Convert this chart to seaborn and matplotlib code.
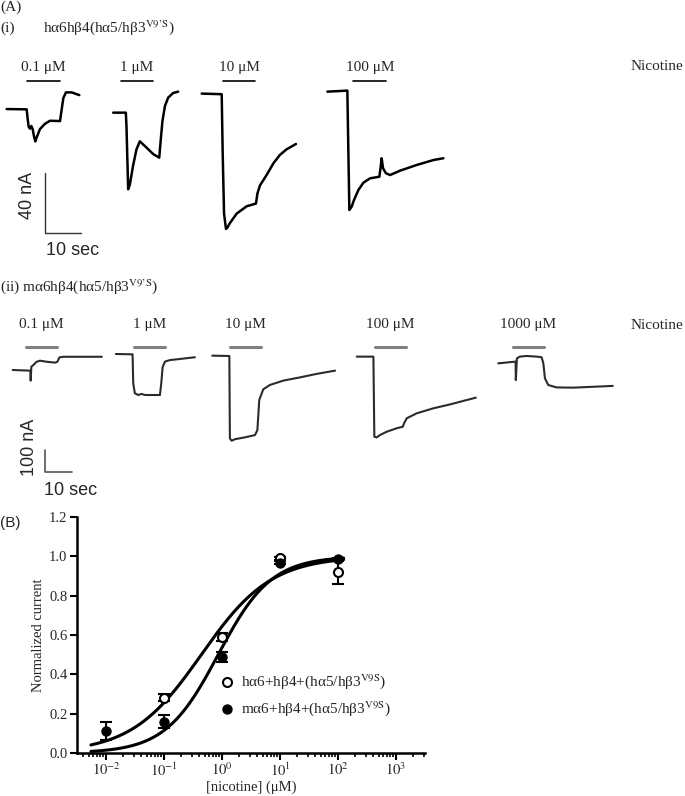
import numpy as np
import matplotlib
matplotlib.use("Agg")
import matplotlib.pyplot as plt
import seaborn as sns

# ============================================
# Data: panel A(i) traces  (time s, current nA)
# ============================================
conc_labels_i = ["0.1 μM", "1 μM", "10 μM", "100 μM"]

t_i_01 = [0, 5.6, 5.88, 6.16, 6.54, 6.9, 7.28, 7.66, 8.03, 8.4, 9.34, 10.74, 12.14, 14.94, 15.3, 15.87, 16.6, 18.2, 20.35]
i_i_01 = [0, -0.2, -6.7, -11.8, -13.1, -11.3, -13.3, -18.4, -21.6, -18.9, -13.3, -9.8, -7.8, -8.0, -2.0, 7.3, 11.1, 11.1, 9.3]

t_i_1 = [0, 3.55, 3.73, 4.2, 4.67, 5.6, 6.54, 7.47, 9.34, 11.2, 12.9, 13.26, 13.8, 14.5, 15.4, 16.8, 18.2]
i_i_1 = [0, 0, -9.3, -51.1, -48, -35, -24.4, -19.1, -23.3, -27.6, -30, -20, -5.6, 4.4, 10, 13.1, 14]

t_i_10 = [0, 5.6, 5.88, 6.26, 6.8, 7.19, 7.94, 9.8, 12.6, 15.2, 15.6, 16.3, 18.2, 20.1, 21.9, 23.8, 26.4]
i_i_10 = [0, -0.4, -40, -80, -90.2, -89.3, -86.2, -80, -75.1, -73.3, -66.7, -61.3, -54.2, -46.4, -40.9, -37.1, -33.6]

t_i_100 = [0, 5.6, 5.88, 6.16, 6.8, 7.47, 8.68, 10.08, 11.95, 14.57, 14.94, 15.2, 15.6, 16.4, 17.55, 20.35, 25.0, 29.7, 32.5]
i_i_100 = [0, 0.7, -40, -78.9, -76.7, -72.2, -65.6, -60.7, -57.8, -56.7, -50, -44.4, -51.1, -54.4, -55.6, -52.7, -48.9, -45.6, -44.4]

# ============================================
# Data: panel A(ii) traces  (time s, current nA)
# ============================================
conc_labels_ii = ["0.1 μM", "1 μM", "10 μM", "100 μM", "1000 μM"]

t_ii_01 = [0, 6.62, 6.75, 7.0, 7.75, 9.0, 10.25, 12.75, 15.9, 16.75, 17.5, 19.0, 24.0, 33.4]
i_ii_01 = [0, -3, -49, 15, 23, 38, 43, 38, 34, 38, 58, 61, 61, 61]

t_ii_1 = [0, 6.25, 6.5, 7.1, 8.4, 9.6, 10.9, 16.5, 17.0, 17.5, 18.4, 20.25, 24.0, 29.6]
i_ii_1 = [0, -1.5, -135, -181, -189, -184, -189, -189, -135, -61, -35, -28, -23, -15]

t_ii_10 = [0, 6.4, 6.6, 7.25, 8.5, 11.6, 16.0, 16.9, 17.6, 19.1, 21.6, 26.6, 32.9, 39.1, 46.0]
i_ii_10 = [0, -1.5, -381, -392, -385, -378, -366, -343, -204, -155, -135, -115, -100, -84, -69]

t_ii_100 = [0, 6.25, 6.6, 7.5, 8.75, 11.25, 15.0, 17.25, 17.75, 18.75, 22.5, 28.75, 35.0, 44.6]
i_ii_100 = [0, 0, -369, -372, -361, -346, -330, -323, -307, -284, -261, -238, -220, -189]

t_ii_1000 = [0, 6.5, 6.6, 7.0, 8.1, 10.6, 14.4, 16.25, 16.9, 17.5, 18.75, 21.9, 28.1, 35.6, 42.9]
i_ii_1000 = [0, 8, -77, 23, 31, 34, 31, 28, 0, -69, -100, -111, -112, -108, -104]

# ============================================
# Data: panel B concentration-response
# ============================================
h_conc = [0.1, 1, 10, 100]
h_mean = [0.281, 0.592, 0.991, 0.918]
h_sem = [0.018, 0.02, 0.008, 0.059]

m_conc = [0.01, 0.1, 1, 10, 100]
m_mean = [0.113, 0.16, 0.49, 0.968, 0.985]
m_sem = [0.047, 0.034, 0.025, 0.008, 0.006]

# Hill fit parameters (EC50 in uM, Hill slope)
h_ec50, h_nh = 0.44, 0.72
m_ec50, m_nh = 0.86, 0.95

# ============================================
# Style
# ============================================
sns.set_style("ticks")
plt.rcParams['font.family'] = ['Liberation Serif', 'DejaVu Serif']
plt.rcParams['mathtext.fontset'] = 'stix'

W, H = 685, 796
fig = plt.figure(figsize=(W / 100, H / 100), dpi=100)


def fx(x):
    return x / W


def fy(y):
    return 1 - y / H


# ============================================
# Panel A(i)
# ============================================
sx_i, sy_i = 3.57, 1.5          # px per s, px per nA
ax_i = fig.add_axes([0, fy(260), 1, 200 / H])
ax_i.set_xlim(0, W / sx_i)
ax_i.set_ylim(-200 / sy_i, 0)
ax_i.axis('off')

traces_i = [(t_i_01, i_i_01), (t_i_1, i_i_1), (t_i_10, i_i_10), (t_i_100, i_i_100)]
x0_i = [1.87, 31.7, 56.5, 91.7]
y0_i = [-32.7, -35.1, -22.4, -21.1]
bar_start_i = [7.65, 33.8, 62.4, 99.0]
bar_dur_i = 9.15

for (t, cur), x0, y0, b0, lab in zip(traces_i, x0_i, y0_i, bar_start_i, conc_labels_i):
    sns.lineplot(x=np.array(t) + x0, y=np.array(cur) + y0, ax=ax_i,
                 color='black', lw=1.8, sort=False, estimator=None)
    ax_i.plot([b0, b0 + bar_dur_i], [-13.8, -13.8], color='black', lw=1.2)
    ax_i.text(b0 + bar_dur_i / 2, -4.7, lab, ha='center', va='center', fontsize=11)

# scale bar: 40 nA x 10 s
ax_i.plot([12.6, 12.6, 22.6], [-75.5, -115.5, -115.5], color='#333333', lw=1.0)
ax_i.text(7.8, -90, "40 nA", rotation=90, ha='center', va='center',
          fontsize=13, family='Liberation Sans')
ax_i.text(20.2, -126.7, "10 sec", ha='center', va='center',
          fontsize=13, family='Liberation Sans')

# ============================================
# Panel A(ii)
# ============================================
sx_ii, sy_ii = 2.67, 0.217
ax_ii = fig.add_axes([0, fy(500), 1, 200 / H])
ax_ii.set_xlim(0, W / sx_ii)
ax_ii.set_ylim(-200 / sy_ii, 0)
ax_ii.axis('off')

traces_ii = [(t_ii_01, i_ii_01), (t_ii_1, i_ii_1), (t_ii_10, i_ii_10),
             (t_ii_100, i_ii_100), (t_ii_1000, i_ii_1000)]
x0_ii = [4.74, 43.4, 79.5, 133.6, 186.6]
y0_ii = [-322.6, -248.8, -256.5, -261.0, -291.9]
bar_start_ii = [9.74, 50.2, 86.1, 140.4, 192.0]
bar_dur_ii = 11.7

for (t, cur), x0, y0, b0, lab in zip(traces_ii, x0_ii, y0_ii, bar_start_ii, conc_labels_ii):
    sns.lineplot(x=np.array(t) + x0, y=np.array(cur) + y0, ax=ax_ii,
                 color='#2b2b2b', lw=1.5, sort=False, estimator=None)
    ax_ii.plot([b0, b0 + bar_dur_ii], [-216.6, -216.6], color='#808080', lw=2.2)
    ax_ii.text(b0 + bar_dur_ii / 2, -115, lab, ha='center', va='center', fontsize=11)

# scale bar: 100 nA x 10 s
ax_ii.plot([16.85, 16.85, 26.85], [-691, -791, -791], color='#555555', lw=1.2)
ax_ii.text(11.2, -680, "100 nA", rotation=90, ha='center', va='center',
           fontsize=13, family='Liberation Sans')
ax_ii.text(26.6, -876, "10 sec", ha='center', va='center',
           fontsize=13, family='Liberation Sans')

# ============================================
# Header texts
# ============================================
fig.text(fx(0), fy(7), "(A)", ha='left', va='center', fontsize=11)
fig.text(fx(0), fy(28), "(i)", ha='left', va='center', fontsize=11)
fig.text(fx(43), fy(28), "hα6hβ4(hα5/hβ3$^{\\mathrm{V9\u2019S}}$)",
         ha='left', va='center', fontsize=11)
fig.text(fx(683), fy(67), "Nicotine", ha='right', va='center', fontsize=11)
fig.text(fx(0), fy(287), "(ii) mα6hβ4(hα5/hβ3$^{\\mathrm{V9\u2019S}}$)",
         ha='left', va='center', fontsize=11)
fig.text(fx(683), fy(325), "Nicotine", ha='right', va='center', fontsize=11)
fig.text(fx(0), fy(523), "(B)", ha='left', va='center', fontsize=11,
         family='Liberation Sans')

# ============================================
# Panel B
# ============================================
axB = fig.add_axes([fx(77), fy(753), (425 - 77) / W, (753 - 517) / H])
xfit = np.logspace(np.log10(0.0055), np.log10(125), 300)
h_fit = 1 / (1 + (h_ec50 / xfit) ** h_nh)
m_fit = 1 / (1 + (m_ec50 / xfit) ** m_nh)
sns.lineplot(x=xfit, y=h_fit, ax=axB, color='black', lw=2.2, sort=False, estimator=None)
sns.lineplot(x=xfit, y=m_fit, ax=axB, color='black', lw=2.2, sort=False, estimator=None)

axB.errorbar(h_conc, h_mean, yerr=h_sem, fmt='none', ecolor='black',
             elinewidth=1.5, capsize=4, capthick=1.5, zorder=3)
axB.errorbar(m_conc, m_mean, yerr=m_sem, fmt='none', ecolor='black',
             elinewidth=1.5, capsize=4, capthick=1.5, zorder=3)
sns.scatterplot(x=h_conc, y=h_mean, ax=axB, s=42, color='white',
                edgecolor='black', linewidth=1.5, zorder=4,
                label="hα6+hβ4+(hα5/hβ3$^{\\mathrm{V9S}}$)")
sns.scatterplot(x=m_conc, y=m_mean, ax=axB, s=42, color='black',
                edgecolor='black', linewidth=1.0, zorder=4,
                label="mα6+hβ4+(hα5/hβ3$^{\\mathrm{V9S}}$)")

axB.set_xscale('log')
axB.set_xlim(10 ** -2.5, 10 ** 3.5)
axB.set_ylim(0, 1.2)
yt = [0, 0.2, 0.4, 0.6, 0.8, 1.0, 1.2]
axB.set_yticks(yt)
axB.set_yticklabels(["%.1f" % v for v in yt])
axB.set_xticks([1e-2, 1e-1, 1e0, 1e1, 1e2, 1e3])
axB.set_xticklabels(["$10^{-2}$", "$10^{-1}$", "$10^{0}$", "$10^{1}$",
                     "$10^{2}$", "$10^{3}$"])
sns.despine(ax=axB)
for s in ['left', 'bottom']:
    axB.spines[s].set_linewidth(1.8)
    axB.spines[s].set_color('black')
axB.tick_params(axis='both', which='major', length=5, width=1.5,
                labelsize=10.5, color='black', pad=2)
axB.tick_params(axis='x', which='major', pad=1)
axB.tick_params(axis='x', which='minor', length=3, width=1.2, color='black')
axB.set_xlabel("[nicotine] (μM)", fontsize=10.5, labelpad=1)
axB.set_ylabel("Normalized current", fontsize=10.5, labelpad=3)

axB.legend(loc='center left', bbox_to_anchor=(0.405, 0.245), frameon=False,
           fontsize=11, handletextpad=0.3, labelspacing=0.55,
           borderaxespad=0, borderpad=0, handlelength=1.2)

fig.savefig("out.png", dpi=100)
